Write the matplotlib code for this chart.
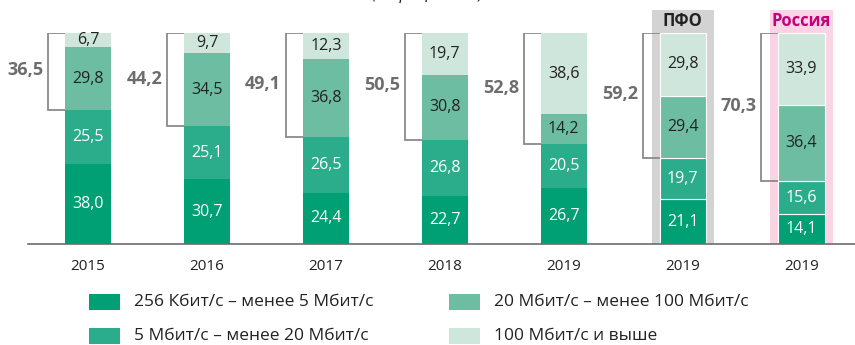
import matplotlib
matplotlib.use("Agg")

import matplotlib.pyplot as plt
from matplotlib.patches import Rectangle

plt.rcParams["font.family"] = ["Open Sans", "DejaVu Sans"]

years = ["2015", "2016", "2017", "2018", "2019", "2019", "2019"]
group_labels = [None, None, None, None, None, "ПФО", "Россия"]

slow = [38.0, 30.7, 24.4, 22.7, 26.7, 21.1, 14.1]      # 256 Кбит/с – 5 Мбит/с
mid = [25.5, 25.1, 26.5, 26.8, 20.5, 19.7, 15.6]       # 5 – 20 Мбит/с
fast = [29.8, 34.5, 36.8, 30.8, 14.2, 29.4, 36.4]      # 20 – 100 Мбит/с
ultra = [6.7, 9.7, 12.3, 19.7, 38.6, 29.8, 33.9]       # 100 Мбит/с и выше
totals = [36.5, 44.2, 49.1, 50.5, 52.8, 59.2, 70.3]    # 20 Мбит/с и выше

series_names = [
    "256 Кбит/с – менее 5 Мбит/с",
    "5 Мбит/с – менее 20 Мбит/с",
    "20 Мбит/с – менее 100 Мбит/с",
    "100 Мбит/с и выше",
]
colors = ["#009f74", "#2bad8b", "#6dbda3", "#cfe6dd"]
text_colors = ["white", "white", "#222222", "#222222"]

W, H = 855, 345
fig = plt.figure(figsize=(W / 100, H / 100), dpi=100)
ax = fig.add_axes([28 / W, 101 / H, 827 / W, 211 / H])
ax.set_xlim(-0.505, 6.45)
ax.set_ylim(0, 100)

width = 0.387
x = list(range(len(years)))

# highlight panels behind the regional / national bars
panel_colors = {"ПФО": "#d3d3d3", "Россия": "#f8d4e4"}
title_colors = {"ПФО": "#222222", "Россия": "#c4007a"}
for i, g in enumerate(group_labels):
    if g is None:
        continue
    pw = 0.522
    ax.add_patch(Rectangle((i - pw / 2, 0), pw, 111, facecolor=panel_colors[g],
                           edgecolor="none", clip_on=False, zorder=0))
    ax.text(i, 105.5, g, ha="center", va="center", fontsize=12,
            fontweight="bold", color=title_colors[g], clip_on=False)

bottom = [0.0] * len(years)
for vals, col, tcol in zip([slow, mid, fast, ultra], colors, text_colors):
    edge = ["white" if g else "none" for g in group_labels]
    ax.bar(x, vals, width, bottom=bottom, color=col, edgecolor=edge,
           linewidth=0.8, zorder=2)
    for i, v in enumerate(vals):
        ax.text(i, bottom[i] + v / 2, f"{v:.1f}".replace(".", ","),
                ha="center", va="center", fontsize=11.5, color=tcol, zorder=3)
    bottom = [b + v for b, v in zip(bottom, vals)]

# brackets grouping the two fastest segments
off = 0.143
for i, t in enumerate(totals):
    left = i - width / 2
    bx = left - off
    y0 = slow[i] + mid[i]
    top = y0 + fast[i] + ultra[i]
    ax.plot([left, bx, bx, left], [top, top, y0, y0], color="#8a8a8a",
            lw=1.3, solid_joinstyle="miter", zorder=1)
    ax.text(bx - 0.04, (top + y0) / 2 + 0.5, f"{t:.1f}".replace(".", ","),
            ha="right", va="center", fontsize=13, fontweight="bold",
            color="#6d6d6d")

for s in ["top", "right", "left"]:
    ax.spines[s].set_visible(False)
ax.spines["bottom"].set_color("#6d6d6d")
ax.spines["bottom"].set_linewidth(1.2)
ax.set_yticks([])
ax.set_xticks(x)
ax.set_xticklabels(years, fontsize=11, color="#222222")
ax.tick_params(axis="x", length=0, pad=11)

fig.text(0.50, 1.015, "(в процентах)", ha="center", va="center",
         fontsize=12, style="italic", color="#222222")

# legend: two columns, two rows
col_x = [89, 449]
row_y = [302, 336]
for k, (name, c) in enumerate(zip(series_names, colors)):
    cx = col_x[k // 2]
    cy = row_y[k % 2]
    fig.patches.append(Rectangle((cx / W, 1 - (cy + 8) / H), 31 / W, 16 / H,
                                 facecolor=c, edgecolor="none",
                                 transform=fig.transFigure, figure=fig))
    fig.text((cx + 45) / W, 1 - cy / H, name, ha="left", va="center",
             fontsize=12.5, color="#222222")

fig.savefig("out.png", dpi=100)
